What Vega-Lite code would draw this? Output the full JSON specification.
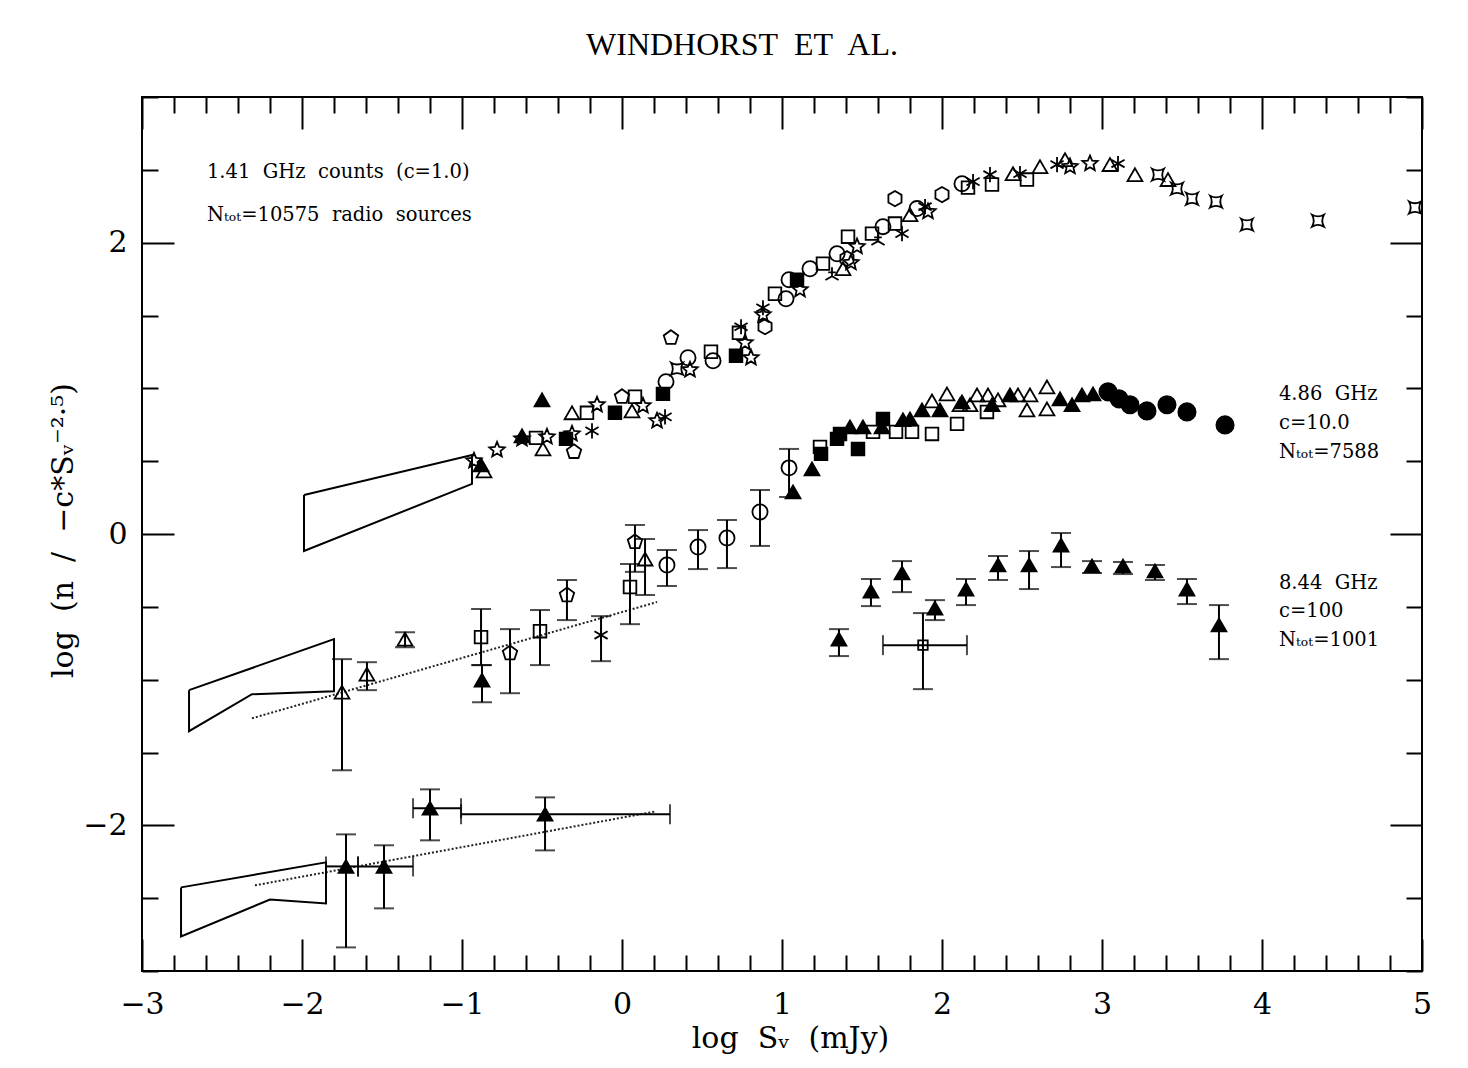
{
"$schema": "https://vega.github.io/schema/vega-lite/v6.json",
"width": 1280, "height": 874,
"autosize": "none",
"padding": {"left": 142, "top": 97, "right": 46, "bottom": 97},
"background": "white",
"config": {
  "view": {"stroke": "black", "strokeWidth": 2},
  "axis": {"domain": false, "grid": false, "tickColor": "black", "tickWidth": 2, "labelColor": "black", "titleColor": "black", "labelFont": "DejaVu Serif", "titleFont": "DejaVu Serif", "labelFontSize": 30, "titleFontSize": 30, "titleFontWeight": "normal", "labelOverlap": false, "labelFlush": false}
},
"title": {"text": "WINDHORST\u00a0 ET\u00a0 AL.", "font": "Liberation Serif", "fontSize": 32, "fontWeight": "normal", "color": "black", "anchor": "middle", "dx": -40, "dy": 44, "offset": 39, "baseline": "alphabetic"},
"datasets": {
  "polys": [
    {"id":1,"o":0,"x":-1.9875,"y":0.268},{"id":1,"o":1,"x":-0.9375,"y":0.543},{"id":1,"o":2,"x":-0.9375,"y":0.344},{"id":1,"o":3,"x":-1.9875,"y":-0.117},{"id":1,"o":4,"x":-1.9875,"y":0.268},
    {"id":2,"o":0,"x":-2.706,"y":-1.072},{"id":2,"o":1,"x":-1.8,"y":-0.722},{"id":2,"o":2,"x":-1.8,"y":-1.079},{"id":2,"o":3,"x":-2.3125,"y":-1.1},{"id":2,"o":4,"x":-2.706,"y":-1.354},{"id":2,"o":5,"x":-2.706,"y":-1.072},
    {"id":3,"o":0,"x":-2.756,"y":-2.426},{"id":3,"o":1,"x":-1.85,"y":-2.254},{"id":3,"o":2,"x":-1.85,"y":-2.536},{"id":3,"o":3,"x":-2.2,"y":-2.509},{"id":3,"o":4,"x":-2.756,"y":-2.763},{"id":3,"o":5,"x":-2.756,"y":-2.426}
  ],
  "fits": [
    {"id":1,"x":-2.3125,"y":-1.265},{"id":1,"x":0.219,"y":-0.467},
    {"id":2,"x":-2.294,"y":-2.412},{"id":2,"x":0.2125,"y":-1.904}
  ],
  "notes": [
    {"x":-2.594,"y":2.447,"t":"1.41\u00a0 GHz\u00a0 counts\u00a0 (c=1.0)"},
    {"x":-2.594,"y":2.151,"t":"Nₜₒₜ=10575\u00a0 radio\u00a0 sources"},
    {"x":4.106,"y":0.921,"t":"4.86\u00a0 GHz"},
    {"x":4.106,"y":0.722,"t":"c=10.0"},
    {"x":4.106,"y":0.522,"t":"Nₜₒₜ=7588"},
    {"x":4.106,"y":-0.378,"t":"8.44\u00a0 GHz"},
    {"x":4.106,"y":-0.57,"t":"c=100"},
    {"x":4.106,"y":-0.77,"t":"Nₜₒₜ=1001"}
  ],
  "pts": [
    {"x":-0.925,"y":0.502,"s":"star"},{"x":-0.881,"y":0.474,"s":"tri_f"},{"x":-0.8625,"y":0.433,"s":"tri"},{"x":-0.781,"y":0.577,"s":"star"},
    {"x":-0.625,"y":0.674,"s":"tri_f"},{"x":-0.625,"y":0.653,"s":"star"},{"x":-0.5375,"y":0.66,"s":"sq"},{"x":-0.469,"y":0.667,"s":"star"},
    {"x":-0.494,"y":0.584,"s":"tri"},{"x":-0.35,"y":0.653,"s":"sq_f"},{"x":-0.3125,"y":0.687,"s":"star"},{"x":-0.3,"y":0.564,"s":"pent"},
    {"x":-0.1875,"y":0.708,"s":"ast"},{"x":-0.5,"y":0.921,"s":"tri_f"},{"x":-0.3125,"y":0.832,"s":"tri"},{"x":-0.219,"y":0.832,"s":"sq"},
    {"x":-0.156,"y":0.887,"s":"star"},{"x":-0.044,"y":0.832,"s":"sq_f"},{"x":0,"y":0.942,"s":"pent"},{"x":0.081,"y":0.942,"s":"sq"},
    {"x":0.0625,"y":0.845,"s":"tri"},{"x":0.131,"y":0.88,"s":"star"},{"x":0.219,"y":0.777,"s":"star"},{"x":0.269,"y":0.804,"s":"ast"},
    {"x":0.256,"y":0.962,"s":"sq_f"},{"x":0.275,"y":1.045,"s":"circ"},{"x":0.344,"y":1.134,"s":"conc"},{"x":0.425,"y":1.127,"s":"star"},
    {"x":0.306,"y":1.347,"s":"pent"},{"x":0.4125,"y":1.21,"s":"circ"},{"x":0.556,"y":1.251,"s":"sq"},{"x":0.569,"y":1.189,"s":"circ"},
    {"x":0.7125,"y":1.223,"s":"sq_f"},{"x":0.806,"y":1.21,"s":"star"},{"x":0.731,"y":1.381,"s":"sq"},{"x":0.744,"y":1.423,"s":"ast"},
    {"x":0.769,"y":1.313,"s":"star"},{"x":0.894,"y":1.423,"s":"hex"},{"x":0.881,"y":1.505,"s":"star"},{"x":0.881,"y":1.553,"s":"ast"},
    {"x":0.956,"y":1.649,"s":"sq"},{"x":1.025,"y":1.615,"s":"circ"},{"x":1.044,"y":1.746,"s":"circ"},{"x":1.094,"y":1.746,"s":"sq_f"},
    {"x":1.1125,"y":1.677,"s":"star"},{"x":1.175,"y":1.821,"s":"circ"},{"x":1.256,"y":1.856,"s":"sq"},{"x":1.3125,"y":1.78,"s":"tri3"},
    {"x":1.344,"y":1.924,"s":"circ"},{"x":1.406,"y":1.89,"s":"hex"},{"x":1.431,"y":1.863,"s":"star"},{"x":1.381,"y":1.821,"s":"tri"},
    {"x":1.4125,"y":2.041,"s":"sq"},{"x":1.469,"y":1.973,"s":"star"},{"x":1.5625,"y":2.062,"s":"sq"},{"x":1.6,"y":2.021,"s":"tri3"},
    {"x":1.631,"y":2.11,"s":"circ"},{"x":1.706,"y":2.131,"s":"sq"},{"x":1.75,"y":2.062,"s":"ast"},{"x":1.706,"y":2.302,"s":"hex"},
    {"x":1.8,"y":2.192,"s":"tri"},{"x":1.844,"y":2.234,"s":"circ"},{"x":1.9125,"y":2.213,"s":"star"},{"x":1.894,"y":2.247,"s":"ast"},
    {"x":2.0,"y":2.33,"s":"hex"},{"x":2.125,"y":2.405,"s":"circ"},{"x":2.1625,"y":2.378,"s":"sq"},{"x":2.194,"y":2.419,"s":"ast"},
    {"x":2.3125,"y":2.399,"s":"sq"},{"x":2.3,"y":2.467,"s":"ast"},{"x":2.444,"y":2.474,"s":"tri"},{"x":2.4875,"y":2.474,"s":"ast"},
    {"x":2.531,"y":2.433,"s":"sq"},{"x":2.6125,"y":2.522,"s":"tri"},{"x":2.719,"y":2.536,"s":"ast"},{"x":2.769,"y":2.57,"s":"tri"},
    {"x":2.8,"y":2.522,"s":"star"},{"x":2.925,"y":2.543,"s":"star"},{"x":3.05,"y":2.536,"s":"tri"},{"x":3.1,"y":2.543,"s":"ast"},
    {"x":3.206,"y":2.467,"s":"tri"},{"x":3.35,"y":2.467,"s":"conc"},{"x":3.4125,"y":2.433,"s":"tri"},{"x":3.469,"y":2.371,"s":"conc"},
    {"x":3.5625,"y":2.302,"s":"conc"},{"x":3.7125,"y":2.282,"s":"conc"},{"x":3.906,"y":2.124,"s":"conc"},{"x":4.35,"y":2.151,"s":"conc"},
    {"x":4.956,"y":2.241,"s":"conc"},

    {"x":1.069,"y":0.289,"s":"tri_f"},{"x":1.1875,"y":0.447,"s":"tri_f"},{"x":1.244,"y":0.55,"s":"sq_f"},{"x":1.2375,"y":0.598,"s":"sq"},
    {"x":1.344,"y":0.653,"s":"sq_f"},{"x":1.3625,"y":0.687,"s":"sq_f"},{"x":1.425,"y":0.735,"s":"tri_f"},{"x":1.506,"y":0.735,"s":"tri_f"},
    {"x":1.475,"y":0.584,"s":"sq_f"},{"x":1.569,"y":0.701,"s":"sq"},{"x":1.625,"y":0.735,"s":"tri_f"},{"x":1.631,"y":0.79,"s":"sq_f"},
    {"x":1.7125,"y":0.701,"s":"sq"},{"x":1.8125,"y":0.701,"s":"sq"},{"x":1.9375,"y":0.687,"s":"sq"},{"x":1.756,"y":0.784,"s":"tri_f"},
    {"x":1.8,"y":0.79,"s":"tri_f"},{"x":1.875,"y":0.852,"s":"tri_f"},{"x":1.9375,"y":0.914,"s":"tri"},{"x":1.9875,"y":0.852,"s":"tri_f"},
    {"x":2.031,"y":0.962,"s":"tri"},{"x":2.094,"y":0.756,"s":"sq"},{"x":2.1125,"y":0.887,"s":"tri"},{"x":2.125,"y":0.907,"s":"tri_f"},
    {"x":2.175,"y":0.887,"s":"tri"},{"x":2.219,"y":0.955,"s":"tri"},{"x":2.2875,"y":0.955,"s":"tri"},{"x":2.35,"y":0.921,"s":"tri"},
    {"x":2.281,"y":0.838,"s":"sq"},{"x":2.3125,"y":0.887,"s":"tri_f"},{"x":2.425,"y":0.955,"s":"tri_f"},{"x":2.475,"y":0.955,"s":"tri"},
    {"x":2.55,"y":0.955,"s":"tri"},{"x":2.531,"y":0.852,"s":"tri"},{"x":2.656,"y":1.01,"s":"tri"},{"x":2.656,"y":0.859,"s":"tri"},
    {"x":2.7375,"y":0.928,"s":"tri_f"},{"x":2.8125,"y":0.887,"s":"tri_f"},{"x":2.875,"y":0.955,"s":"tri_f"},{"x":2.944,"y":0.962,"s":"tri_f"},
    {"x":3.0375,"y":0.976,"s":"circ_f"},{"x":3.106,"y":0.928,"s":"circ_f"},{"x":3.175,"y":0.887,"s":"circ_f"},{"x":3.281,"y":0.845,"s":"circ_f"},
    {"x":3.406,"y":0.887,"s":"circ_f"},{"x":3.531,"y":0.838,"s":"circ_f"},{"x":3.769,"y":0.749,"s":"circ_f"},

    {"x":-1.75,"y":-1.086,"s":"tri","lo":-1.622,"hi":-0.859},
    {"x":-1.594,"y":-0.962,"s":"tri","lo":-1.072,"hi":-0.88},
    {"x":-1.356,"y":-0.722,"s":"tri","lo":-0.777,"hi":-0.674},
    {"x":-0.881,"y":-0.708,"s":"sq","lo":-0.9,"hi":-0.515},
    {"x":-0.875,"y":-1.003,"s":"tri_f","lo":-1.155,"hi":-0.9},
    {"x":-0.7,"y":-0.818,"s":"pent","lo":-1.093,"hi":-0.653},
    {"x":-0.5125,"y":-0.667,"s":"sq","lo":-0.9,"hi":-0.522},
    {"x":-0.344,"y":-0.42,"s":"pent","lo":-0.591,"hi":-0.316},
    {"x":-0.131,"y":-0.694,"s":"ast","lo":-0.873,"hi":-0.564},
    {"x":0.05,"y":-0.364,"s":"sq","lo":-0.619,"hi":-0.206},
    {"x":0.081,"y":-0.055,"s":"pent","lo":-0.26,"hi":0.062},
    {"x":0.144,"y":-0.172,"s":"tri","lo":-0.419,"hi":-0.034},
    {"x":0.281,"y":-0.213,"s":"circ","lo":-0.357,"hi":-0.11},
    {"x":0.475,"y":-0.089,"s":"circ","lo":-0.241,"hi":0.027},
    {"x":0.656,"y":-0.027,"s":"circ","lo":-0.234,"hi":0.096},
    {"x":0.8625,"y":0.151,"s":"circ","lo":-0.082,"hi":0.302},
    {"x":1.044,"y":0.454,"s":"circ","lo":0.254,"hi":0.584},

    {"x":-1.725,"y":-2.282,"s":"tri_f","lo":-2.838,"hi":-2.062,"xlo":-1.85,"xhi":-1.65},
    {"x":-1.4875,"y":-2.282,"s":"tri_f","lo":-2.57,"hi":-2.137,"xlo":-1.65,"xhi":-1.306},
    {"x":-1.2,"y":-1.883,"s":"tri_f","lo":-2.103,"hi":-1.753,"xlo":-1.306,"xhi":-1.006},
    {"x":-0.481,"y":-1.924,"s":"tri_f","lo":-2.172,"hi":-1.808,"xlo":-1.006,"xhi":0.3},
    {"x":1.356,"y":-0.722,"s":"tri_f","lo":-0.838,"hi":-0.653},
    {"x":1.556,"y":-0.392,"s":"tri_f","lo":-0.495,"hi":-0.309},
    {"x":1.75,"y":-0.268,"s":"tri_f","lo":-0.399,"hi":-0.186},
    {"x":1.956,"y":-0.509,"s":"tri_f","lo":-0.591,"hi":-0.454},
    {"x":2.15,"y":-0.378,"s":"tri_f","lo":-0.488,"hi":-0.309},
    {"x":2.35,"y":-0.213,"s":"tri_f","lo":-0.316,"hi":-0.151},
    {"x":2.544,"y":-0.213,"s":"tri_f","lo":-0.378,"hi":-0.117},
    {"x":2.744,"y":-0.076,"s":"tri_f","lo":-0.227,"hi":0.007},
    {"x":2.9375,"y":-0.22,"s":"tri_f","lo":-0.268,"hi":-0.186},
    {"x":3.131,"y":-0.22,"s":"tri_f","lo":-0.275,"hi":-0.192},
    {"x":3.331,"y":-0.254,"s":"tri_f","lo":-0.316,"hi":-0.213},
    {"x":3.531,"y":-0.378,"s":"tri_f","lo":-0.481,"hi":-0.309},
    {"x":3.731,"y":-0.625,"s":"tri_f","lo":-0.859,"hi":-0.488},
    {"x":1.881,"y":-0.763,"s":"sq_s","lo":-1.065,"hi":-0.543,"xlo":1.631,"xhi":2.156}
  ]
},
"layer": [
  {
    "data": {"name": "polys"},
    "mark": {"type": "line", "color": "black", "strokeWidth": 2},
    "encoding": {
      "x": {"field": "x", "type": "quantitative", "scale": {"domain": [-3, 5], "nice": false, "zero": false},
        "axis": {"orient": "bottom",
          "values": [-3,-2.8,-2.6,-2.4,-2.2,-2,-1.8,-1.6,-1.4,-1.2,-1,-0.8,-0.6,-0.4,-0.2,0,0.2,0.4,0.6,0.8,1,1.2,1.4,1.6,1.8,2,2.2,2.4,2.6,2.8,3,3.2,3.4,3.6,3.8,4,4.2,4.4,4.6,4.8,5],
          "tickSize": {"condition": {"test": "abs(datum.value - round(datum.value)) < 0.01", "value": -32}, "value": -16},
          "labelExpr": "abs(datum.value - round(datum.value)) < 0.01 ? (datum.value < 0 ? '−' + abs(round(datum.value)) : '' + round(datum.value)) : ''",
          "labelPadding": 50,
          "title": "log\u00a0 S\u1d65\u00a0 (mJy)", "titlePadding": -12, "titleX": 648}},
      "y": {"field": "y", "type": "quantitative", "scale": {"domain": [-3, 3], "nice": false, "zero": false},
        "axis": {"orient": "left",
          "values": [-3,-2.5,-2,-1.5,-1,-0.5,0,0.5,1,1.5,2,2.5,3],
          "tickSize": {"condition": {"test": "abs(datum.value % 2) < 0.01", "value": -32}, "value": -16},
          "labelExpr": "abs(datum.value % 2) < 0.01 ? (datum.value < 0 ? '−' + abs(datum.value) : '' + datum.value) : ''",
          "labelPadding": 47,
          "title": "log\u00a0 (n\u00a0 /\u00a0 −c*Sᵥ⁻²·⁵)", "titlePadding": 4, "titleY": 433}},
      "detail": {"field": "id"},
      "order": {"field": "o", "type": "quantitative"}
    }
  },
  {
    "data": {"name": "fits"},
    "mark": {"type": "line", "color": "#222", "strokeWidth": 2, "strokeDash": [2, 2]},
    "encoding": {
      "x": {"field": "x", "type": "quantitative", "scale": {"domain": [-3, 5], "nice": false, "zero": false}, "axis": null},
      "y": {"field": "y", "type": "quantitative", "scale": {"domain": [-3, 3], "nice": false, "zero": false}, "axis": null},
      "detail": {"field": "id"}
    }
  },
  {
    "data": {"name": "pts"},
    "transform": [{"filter": "isValid(datum.lo)"}],
    "mark": {"type": "rule", "color": "black", "strokeWidth": 2},
    "encoding": {
      "x": {"field": "x", "type": "quantitative", "scale": {"domain": [-3, 5], "nice": false, "zero": false}, "axis": null},
      "y": {"field": "lo", "type": "quantitative", "scale": {"domain": [-3, 3], "nice": false, "zero": false}, "axis": null},
      "y2": {"field": "hi"}
    }
  },
  {
    "data": {"name": "pts"},
    "transform": [{"filter": "isValid(datum.lo)"}, {"fold": ["lo", "hi"], "as": ["k", "v"]}],
    "mark": {"type": "tick", "orient": "horizontal", "color": "black", "size": 20, "thickness": 2},
    "encoding": {
      "x": {"field": "x", "type": "quantitative", "scale": {"domain": [-3, 5], "nice": false, "zero": false}, "axis": null},
      "y": {"field": "v", "type": "quantitative", "scale": {"domain": [-3, 3], "nice": false, "zero": false}, "axis": null}
    }
  },
  {
    "data": {"name": "pts"},
    "transform": [{"filter": "isValid(datum.xlo)"}],
    "mark": {"type": "rule", "color": "black", "strokeWidth": 2},
    "encoding": {
      "x": {"field": "xlo", "type": "quantitative", "scale": {"domain": [-3, 5], "nice": false, "zero": false}, "axis": null},
      "x2": {"field": "xhi"},
      "y": {"field": "y", "type": "quantitative", "scale": {"domain": [-3, 3], "nice": false, "zero": false}, "axis": null}
    }
  },
  {
    "data": {"name": "pts"},
    "transform": [{"filter": "isValid(datum.xlo)"}, {"fold": ["xlo", "xhi"], "as": ["k", "v"]}],
    "mark": {"type": "tick", "orient": "vertical", "color": "black", "size": 20, "thickness": 2},
    "encoding": {
      "x": {"field": "v", "type": "quantitative", "scale": {"domain": [-3, 5], "nice": false, "zero": false}, "axis": null},
      "y": {"field": "y", "type": "quantitative", "scale": {"domain": [-3, 3], "nice": false, "zero": false}, "axis": null}
    }
  },
  {
    "data": {"name": "pts"},
    "mark": {"type": "point", "stroke": "black", "strokeWidth": 1.8, "opacity": 1},
    "encoding": {
      "x": {"field": "x", "type": "quantitative", "scale": {"domain": [-3, 5], "nice": false, "zero": false}, "axis": null},
      "y": {"field": "y", "type": "quantitative", "scale": {"domain": [-3, 3], "nice": false, "zero": false}, "axis": null},
      "shape": {"field": "s", "type": "nominal", "legend": null,
        "scale": {"domain": ["circ","circ_f","sq","sq_f","tri","tri_f","pent","hex","star","ast","tri3","conc","sq_s"],
          "range": ["circle","circle","square","square","triangle-up","triangle-up",
            "M0,-1L0.951,-0.309L0.588,0.809L-0.588,0.809L-0.951,-0.309Z",
            "M0,-1L0.866,-0.5L0.866,0.5L0,1L-0.866,0.5L-0.866,-0.5Z",
            "M0,-1L0.265,-0.364L0.951,-0.309L0.428,0.139L0.588,0.809L0,0.45L-0.588,0.809L-0.428,0.139L-0.951,-0.309L-0.265,-0.364Z",
            "M0,-1L0,1M-0.866,-0.5L0.866,0.5M-0.866,0.5L0.866,-0.5",
            "M0,-1L0,0.2M0,0.2L-0.87,0.7M0,0.2L0.87,0.7M-0.5,-0.3L0.5,-0.3",
            "M-1,-1Q0,-0.45 1,-1Q0.45,0 1,1Q0,0.45 -1,1Q-0.45,0 -1,-1Z",
            "square"]}},
      "fill": {"field": "s", "type": "nominal", "legend": null,
        "scale": {"domain": ["circ","circ_f","sq","sq_f","tri","tri_f","pent","hex","star","ast","tri3","conc","sq_s"],
          "range": ["transparent","black","transparent","black","transparent","black","transparent","transparent","transparent","transparent","transparent","transparent","transparent"]}},
      "size": {"field": "s", "type": "nominal", "legend": null,
        "scale": {"type": "ordinal", "domain": ["circ","circ_f","sq","sq_f","tri","tri_f","pent","hex","star","ast","tri3","conc","sq_s"],
          "range": [230, 300, 160, 160, 220, 220, 230, 230, 260, 230, 230, 140, 90]}}
    }
  },
  {
    "data": {"name": "notes"},
    "mark": {"type": "text", "align": "left", "baseline": "alphabetic", "font": "DejaVu Serif", "fontSize": 19.5, "color": "black"},
    "encoding": {
      "x": {"field": "x", "type": "quantitative", "scale": {"domain": [-3, 5], "nice": false, "zero": false},
        "axis": {"orient": "top", "labels": false, "title": null,
          "values": [-3,-2.8,-2.6,-2.4,-2.2,-2,-1.8,-1.6,-1.4,-1.2,-1,-0.8,-0.6,-0.4,-0.2,0,0.2,0.4,0.6,0.8,1,1.2,1.4,1.6,1.8,2,2.2,2.4,2.6,2.8,3,3.2,3.4,3.6,3.8,4,4.2,4.4,4.6,4.8,5],
          "tickSize": {"condition": {"test": "abs(datum.value - round(datum.value)) < 0.01", "value": -32}, "value": -16}}},
      "y": {"field": "y", "type": "quantitative", "scale": {"domain": [-3, 3], "nice": false, "zero": false},
        "axis": {"orient": "right", "labels": false, "title": null,
          "values": [-3,-2.5,-2,-1.5,-1,-0.5,0,0.5,1,1.5,2,2.5,3],
          "tickSize": {"condition": {"test": "abs(datum.value % 2) < 0.01", "value": -32}, "value": -16}}},
      "text": {"field": "t"}
    }
  }
],
"resolve": {"axis": {"x": "independent", "y": "independent"}}
}
